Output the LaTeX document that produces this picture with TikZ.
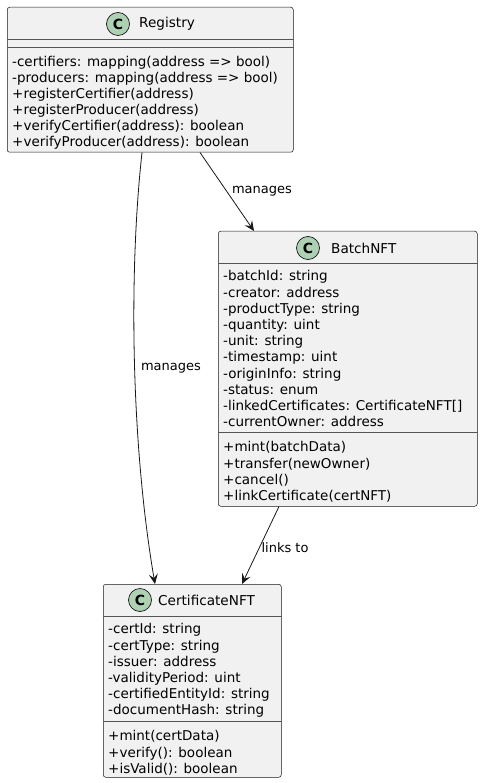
\documentclass[tikz,border=0pt]{standalone}
\usepackage{fontspec}
\setmainfont{DejaVu Sans}
\usetikzlibrary{arrows.meta}
\definecolor{boxfill}{HTML}{F1F1F1}
\definecolor{boxline}{HTML}{181818}
\definecolor{sepcol}{HTML}{555555}
\definecolor{iconfill}{HTML}{ADD1B2}
\tikzset{
  classbox/.style={draw=boxline, fill=boxfill, line width=0.5pt, rounded corners=2.5pt, anchor=north west, inner sep=0pt},
  sepline/.style={draw=sepcol, line width=0.5pt},
  members/.style={anchor=north west, inner sep=0pt, align=left, font=\fontsize{13.5}{16.2}\selectfont},
  regmembers/.style={members, font=\fontsize{13.5}{16}\selectfont},
  titletext/.style={anchor=west, inner sep=0pt, font=\fontsize{13.6}{16}\selectfont},
  classicon/.style={circle, draw=boxline, fill=iconfill, line width=0.7pt, minimum size=23pt, inner sep=0pt, font=\fontsize{14}{16}\selectfont\bfseries},
  conn/.style={draw=boxline, line width=0.8pt, -{Stealth[length=10pt, width=9pt, inset=4pt]}},
  lbl/.style={inner sep=0pt, font=\fontsize{13}{15}\selectfont}
}
\begin{document}
\begin{tikzpicture}[x=1pt,y=-1pt]
\useasboundingbox (0,0) rectangle (483,783);
% Registry
\node[classbox, minimum width=286pt, minimum height=145pt] (reg) at (7,7) {};
\node[classicon] (regicon) at (118,24) {C};
\node[titletext] (regtitle) at (139,24) {Registry};
\draw[sepline] (reg.west |- 0,39) -- (reg.east |- 0,39);
\draw[sepline] (reg.west |- 0,47) -- (reg.east |- 0,47);
\node[regmembers] (regm) at (12,56.5) {-certifiers: mapping(address => bool)\\-producers: mapping(address => bool)\\+registerCertifier(address)\\+registerProducer(address)\\+verifyCertifier(address): boolean\\+verifyProducer(address): boolean};
% BatchNFT
\node[classbox, minimum width=259pt, minimum height=275pt] (batch) at (218,231) {};
\node[classicon] (batchicon) at (308,248) {C};
\node[titletext] (batchtitle) at (331,248) {BatchNFT};
\draw[sepline] (batch.west |- 0,263) -- (batch.east |- 0,263);
\draw[sepline] (batch.west |- 0,432) -- (batch.east |- 0,432);
\node[members] (batcha) at (223,270.5) {-batchId: string\\-creator: address\\-productType: string\\-quantity: uint\\-unit: string\\-timestamp: uint\\-originInfo: string\\-status: enum\\-linkedCertificates: CertificateNFT[]\\-currentOwner: address};
\node[members] (batchm) at (223,441.5) {+mint(batchData)\\+transfer(newOwner)\\+cancel()\\+linkCertificate(certNFT)};
% CertificateNFT
\node[classbox, minimum width=178pt, minimum height=193pt] (cert) at (103,584) {};
\node[classicon] (certicon) at (140,600) {C};
\node[titletext] (certtitle) at (158,600) {CertificateNFT};
\draw[sepline] (cert.west |- 0,616) -- (cert.east |- 0,616);
\draw[sepline] (cert.west |- 0,721) -- (cert.east |- 0,721);
\node[members] (certa) at (108,623.5) {-certId: string\\-certType: string\\-issuer: address\\-validityPeriod: uint\\-certifiedEntityId: string\\-documentHash: string};
\node[members] (certm) at (108,730.5) {+mint(certData)\\+verify(): boolean\\+isValid(): boolean};
% connectors
\draw[conn] (reg.south -| 142,0) .. controls (128,280) and (132,450) .. (cert.north -| 155,0);
\draw[conn] (reg.south -| 200,0) -- (batch.north -| 254,0);
\draw[conn] (batch.south -| 279,0) -- (cert.north -| 242,0);
\node[lbl] (l1) at (171,368) {manages};
\node[lbl] (l2) at (262,191) {manages};
\node[lbl] (l3) at (285,548) {links to};
\end{tikzpicture}
\end{document}
